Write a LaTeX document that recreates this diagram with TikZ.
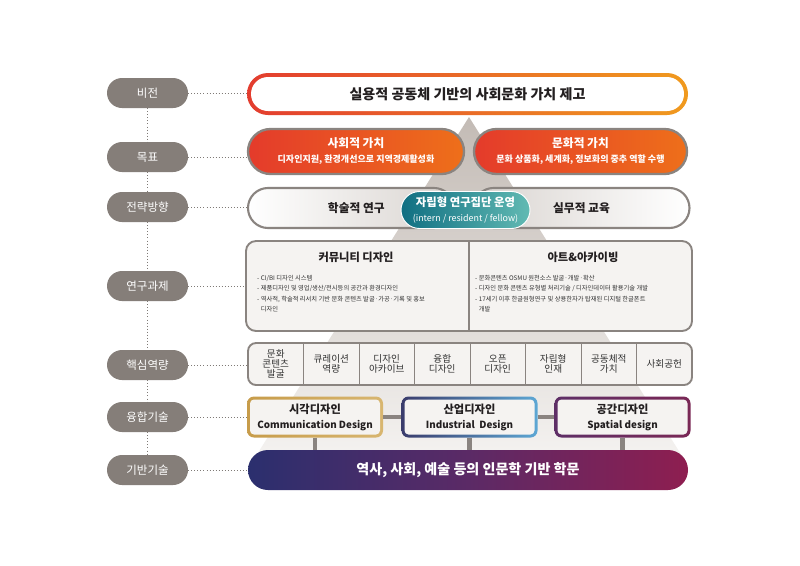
\documentclass[tikz,border=0pt]{standalone}
\usepackage{fontspec}
\setmainfont{Noto Sans CJK KR}
\usetikzlibrary{shapes.misc}

\definecolor{stagegrey}{HTML}{857E79}
\definecolor{ringgrey}{HTML}{8A8480}
\definecolor{dotgrey}{HTML}{7F7A76}
\definecolor{visred}{HTML}{E33D2F}
\definecolor{visorange}{HTML}{F09A1E}
\definecolor{goalred}{HTML}{E43B2B}
\definecolor{goalorange}{HTML}{EE6F1A}
\definecolor{tealdark}{HTML}{106F82}
\definecolor{teallight}{HTML}{62BAB3}
\definecolor{stratgrey}{HTML}{D9D4D0}
\definecolor{boxfill}{HTML}{F5F3F1}
\definecolor{pyrtop}{HTML}{C3BBB5}
\definecolor{pyrbottom}{HTML}{F4F2F0}
\definecolor{basenavy}{HTML}{2B2F6E}
\definecolor{basepurple}{HTML}{5B2A66}
\definecolor{basecrimson}{HTML}{8E1E50}
\definecolor{visgold}{HTML}{C79C4A}
\definecolor{visgoldlight}{HTML}{D8B670}
\definecolor{indnavy}{HTML}{3A3C6C}
\definecolor{indblue}{HTML}{5DA7D4}
\definecolor{spapurple}{HTML}{5E2E66}
\definecolor{spacrimson}{HTML}{7A2856}
\definecolor{inktext}{HTML}{231F20}
\definecolor{celltext}{HTML}{333333}

\tikzset{
  boxsize/.style 2 args={minimum width=#1*0.3mm, minimum height=#2*0.3mm},
  stage/.style={rounded rectangle, fill=stagegrey, text=white, inner sep=0pt,
    boxsize={81}{30}, font=\fontsize{9.8}{11}\selectfont},
  dotline/.style={draw=dotgrey, dotted, line width=0.6pt},
  pill/.style={rounded rectangle, inner sep=0pt, align=center},
  goalpill/.style={pill, draw=ringgrey, line width=2pt, left color=goalred, right color=goalorange,
    text=white, font=\fontsize{7.7}{12.8}\selectfont\bfseries},
  stratpill/.style={pill, draw=ringgrey, line width=1.8pt, text=inktext,
    font=\fontsize{10}{12}\selectfont\bfseries},
  taskbox/.style={rectangle, rounded corners=3mm, draw=ringgrey, line width=1.6pt, fill=boxfill},
  tasktitle/.style={inner sep=0pt, text=inktext, font=\fontsize{9.6}{11}\selectfont\bfseries},
  bullets/.style={inner sep=0pt, align=left, text=celltext, font=\fontsize{5.35}{8.8}\selectfont},
  corecell/.style={inner sep=0pt, align=center, boxsize={55.5}{42}, text=celltext,
    font=\fontsize{8.2}{8.6}\selectfont},
  fusionrim/.style={rectangle, rounded corners=2.1mm, boxsize={136}{41}},
  fusionbox/.style={rectangle, rounded corners=1.2mm, boxsize={130}{35}, fill=boxfill, inner sep=0pt,
    align=center, text=inktext, font=\fontsize{8.4}{12.8}\selectfont\bfseries},
  fusionlink/.style={draw=ringgrey, line width=4pt},
}

\begin{document}
\begin{tikzpicture}[x=0.3mm, y=-0.3mm]
\useasboundingbox[fill=white] (0,0) rectangle (800,565);
% pyramid behind everything
\shade[top color=pyrtop, bottom color=pyrbottom] (469,117) -- (256,456) -- (682,456) -- cycle;

% stage labels
\node[stage] (lv) at (147.5,93)  {비전};
\node[stage] (lg) at (147.5,157) {목표};
\node[stage] (ls) at (147.5,207) {전략방향};
\node[stage] (lr) at (147.5,286) {연구과제};
\node[stage] (lc) at (147.5,365) {핵심역량};
\node[stage] (lf) at (147.5,417) {융합기술};
\node[stage] (lb) at (147.5,470) {기반기술};

% vision
\node[pill, boxsize={441}{42}, left color=visred, right color=visorange] (visionrim) at (467.5,94) {};
\node[pill, boxsize={433}{34}, fill=white, text=inktext, font=\fontsize{12}{14}\selectfont\bfseries]
  (vision) at (visionrim) {실용적 공동체 기반의 사회문화 가치 제고};

% goals
\node[goalpill, boxsize={216}{45}] (social) at (356,151.5)
  {{\fontsize{10}{12.8}\selectfont 사회적 가치}\\디자인지원, 환경개선으로 지역경제활성화};
\node[goalpill, boxsize={213}{45}] (cultural) at (580.5,151.5)
  {{\fontsize{10}{12.8}\selectfont 문화적 가치}\\문화 상품화, 세계화, 정보화의 중추 역할 수행};

% strategy
\node[stratpill, boxsize={206}{40}, left color=white, right color=stratgrey] (academic) at (351,208) {\hspace{9pt}학술적 연구};
\node[stratpill, boxsize={216}{40}, left color=stratgrey, right color=white] (practice) at (581.5,208) {실무적 교육};
\node[pill, boxsize={129}{37}, draw=white, line width=0.8pt, left color=tealdark, right color=teallight,
  text=white, font=\fontsize{7.6}{13.6}\selectfont] (selfrun) at (465.5,210)
  {{\fontsize{9.7}{13.6}\selectfont\bfseries 자립형 연구집단 운영}\\(intern / resident / fellow)};

% research tasks
\node[taskbox, boxsize={446}{90}] (tasks) at (469,286) {};
\draw[ringgrey, line width=1pt] (tasks.north) -- (tasks.south);
\node[tasktitle] (community) at (356,257) {커뮤니티 디자인};
\node[tasktitle] (archiving) at (583,257) {아트\&아카이빙};
\node[bullets, anchor=north west] (communitylist) at (257,275)
  {- CI/BI 디자인 시스템\\
   - 제품디자인 및 영업/생산/전시등의 공간과 환경디자인\\
   - 역사적, 학술적 리서치 기반 문화 콘텐츠 발굴·가공·기록 및 홍보\\
   \phantom{- }디자인};
\node[bullets, anchor=north west] (archivinglist) at (475,275)
  {- 문화콘텐츠 OSMU 원천소스 발굴·개발·확산\\
   - 디자인 문화 콘텐츠 유형별 처리기술 / 디자인데이터 활용기술 개발\\
   - 17세기 이후 한글원형연구 및 상용한자가 탑재된 디지털 한글폰트\\
   \phantom{- }개발};

% core competencies
\node[taskbox, rounded corners=2.4mm, boxsize={444}{42}] (core) at (470,364) {};
\foreach \txt [count=\i] in {{문화\\콘텐츠\\발굴}, {큐레이션\\역량}, {디자인\\아카이브}, {융합\\디자인},
    {오픈\\디자인}, {자립형\\인재}, {공동체적\\가치}, {사회공헌}}
  \node[corecell] (c\i) at ({248+55.5*(\i-0.5)},364) {\txt};
\foreach \i in {1,...,7}
  \draw[ringgrey, line width=0.9pt] (c\i.north east) -- (c\i.south east);

% base
\node[pill, boxsize={440}{40}, left color=basenavy, right color=basecrimson, middle color=basepurple,
  text=white, font=\fontsize{12}{14}\selectfont\bfseries] (base) at (468,470)
  {역사, 사회, 예술 등의 인문학 기반 학문};

% fusion
\node[fusionrim, left color=visgold, right color=visgoldlight] (visualrim) at (315,417) {};
\node[fusionbox] (visual) at (visualrim)
  {{\fontsize{9.6}{12.8}\selectfont 시각디자인}\\Communication Design};
\node[fusionrim, left color=indnavy, right color=indblue] (industrialrim) at (469.5,417) {};
\node[fusionbox] (industrial) at (industrialrim)
  {{\fontsize{9.6}{12.8}\selectfont 산업디자인}\\Industrial\ \ Design};
\node[fusionrim, left color=spapurple, right color=spacrimson] (spatialrim) at (622.5,417) {};
\node[fusionbox] (spatial) at (spatialrim)
  {{\fontsize{9.6}{12.8}\selectfont 공간디자인}\\Spatial design};

\draw[fusionlink] (visualrim.east) -- (industrialrim.west);
\draw[fusionlink] (industrialrim.east) -- (spatialrim.west);
\foreach \b in {visualrim, industrialrim, spatialrim}
  \draw[fusionlink] (\b.south) -- (\b.south |- base.north);

% dotted guides
\foreach \a/\b in {lv/lg, lg/ls, ls/lr, lr/lc, lc/lf, lf/lb}
  \draw[dotline] (\a.south) -- (\b.north);
\foreach \a/\b in {lv/visionrim, lg/social, ls/academic, lr/tasks, lc/core, lf/visualrim, lb/base}
  \draw[dotline] (\a.east) -- (\a.east -| \b.west);
\end{tikzpicture}
\end{document}
